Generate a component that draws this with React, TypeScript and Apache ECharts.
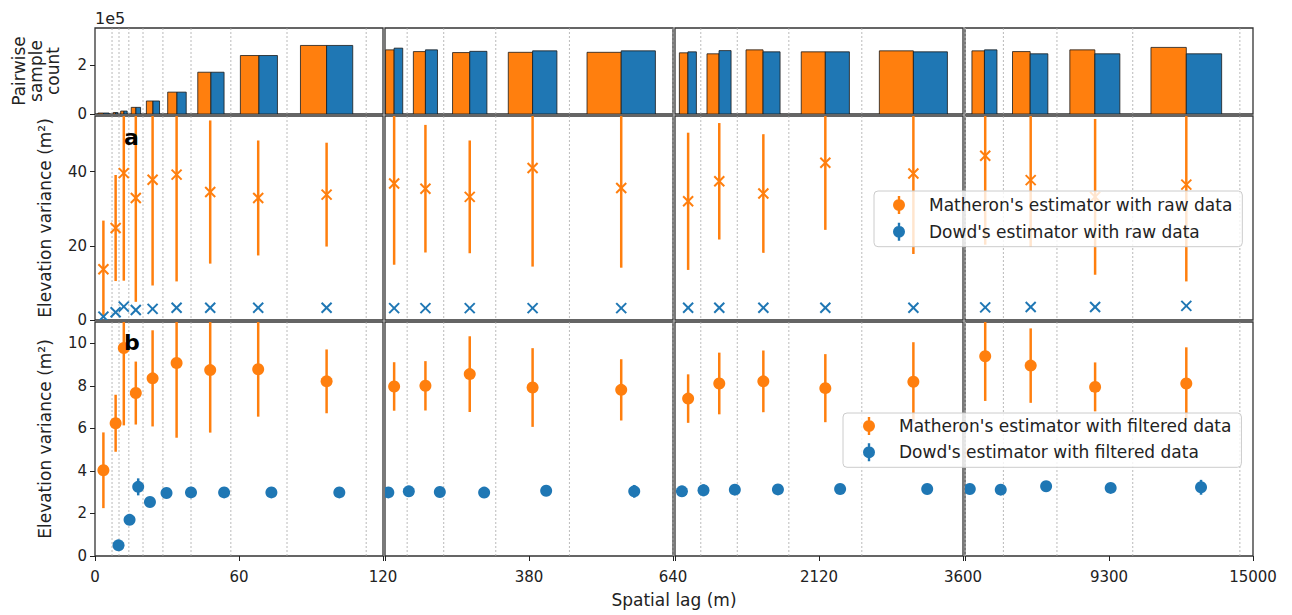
import React, { useEffect, useRef } from 'react';
import * as echarts from 'echarts';

const FONT = 'DejaVu Sans';
const ORANGE = '#ff7f0e';
const BLUE = '#1f77b4';
const INK = '#222222';

// lag-class edges (m)
const binEdges = [0, 7.1, 10, 14.1, 20, 28.3, 40, 56.6, 80, 113, 160, 226, 320, 453, 640, 905, 1280, 1810, 2560, 3620, 5120, 7240, 10240, 14480];
// lag of each class centre (m)
const lagCenters = [3.5, 8.6, 12, 17, 24, 34, 48, 68, 96.5, 136.5, 193, 273, 386.5, 546.5, 775, 1095, 1548, 2185, 3090, 4400, 6200, 8750, 12360];

// pairwise sample counts
const matheronCount = [4000, 6000, 12000, 27000, 53000, 89000, 170000, 238000, 279000, 261000, 254000, 250000, 251000, 251000, 249000, 245000, 261000, 253000, 257000, 257000, 254000, 261000, 271000];
const dowdCount = [4000, 6000, 12000, 27000, 53000, 89000, 170000, 238000, 279000, 268000, 261000, 255000, 257000, 257000, 253000, 258000, 253000, 253000, 253000, 261000, 245000, 245000, 245000];

// panel a: raw data
const matheronRaw = [13.7, 24.8, 39.6, 32.9, 37.8, 39.2, 34.5, 32.9, 33.8, 36.8, 35.4, 33.2, 41.0, 35.6, 32.0, 37.4, 34.1, 42.4, 39.5, 44.3, 37.7, 33.2, 36.5];
const matheronRawErr = [13.1, 14.3, 29.0, 28.0, 28.5, 28.8, 19.3, 15.5, 14.0, 21.9, 17.2, 15.2, 26.6, 21.5, 18.5, 15.7, 16.0, 18.1, 21.7, 24.0, 18.0, 21.0, 26.1];
const dowdRaw = [0.9, 2.1, 3.6, 2.7, 3.0, 3.3, 3.3, 3.3, 3.3, 3.2, 3.2, 3.2, 3.2, 3.2, 3.3, 3.3, 3.3, 3.3, 3.3, 3.4, 3.5, 3.5, 3.8];
const dowdRawErr = [0.1, 0.1, 0.2, 0.1, 0.1, 0.1, 0.1, 0.1, 0.1, 0.1, 0.1, 0.1, 0.1, 0.1, 0.1, 0.1, 0.1, 0.1, 0.1, 0.1, 0.1, 0.1, 0.2];

// panel b: filtered data
const matheronFiltered = [4.03, 6.24, 9.78, 7.66, 8.35, 9.07, 8.74, 8.78, 8.21, 7.97, 8.0, 8.55, 7.92, 7.81, 7.4, 8.11, 8.21, 7.89, 8.19, 9.39, 8.95, 7.95, 8.11];
const matheronFilteredErr = [1.78, 1.34, 3.64, 1.48, 2.26, 3.51, 2.94, 2.23, 1.5, 1.14, 1.16, 1.78, 1.85, 1.44, 1.14, 1.45, 1.45, 1.6, 1.86, 2.1, 1.75, 1.15, 1.7];
const dowdFilteredLag = [9.8, 14.4, 18, 22.9, 29.8, 40, 53.8, 73.5, 101.8, 126, 163, 219, 299, 411, 570, 711, 933, 1255, 1698, 2337, 3232, 3790, 5015, 6811, 9366, 12943];
const dowdFiltered = [0.5, 1.7, 3.25, 2.54, 2.96, 2.99, 2.99, 2.99, 2.99, 2.99, 3.04, 3.01, 2.98, 3.07, 3.04, 3.04, 3.09, 3.12, 3.13, 3.15, 3.15, 3.15, 3.12, 3.28, 3.2, 3.23];
const dowdFilteredErr = [0.05, 0.08, 0.4, 0.1, 0.1, 0.08, 0.08, 0.08, 0.08, 0.08, 0.1, 0.1, 0.1, 0.12, 0.3, 0.22, 0.28, 0.12, 0.12, 0.12, 0.15, 0.12, 0.12, 0.12, 0.12, 0.35];

// axes
const colRanges = [[0, 120], [120, 640], [640, 3600], [3600, 15000]];
const xTickValues = [[0, 60, 120], [120, 380, 640], [640, 2120, 3600], [3600, 9300, 15000]];
const xLabelValues = [[0, 60, 120], [380, 640], [2120, 3600], [9300, 15000]];
const countTicks = [0, 200000];
const rawTicks = [0, 20, 40];
const filteredTicks = [0, 2, 4, 6, 8, 10];
const yMaxes = [350000, 55, 11];
const yTickLists = [countTicks, rawTicks, filteredTicks];
const yNames = ['Pairwise\nsample\ncount', 'Elevation variance (m²)', 'Elevation variance (m²)'];

const NAME_MR = "Matheron's estimator with raw data";
const NAME_DR = "Dowd's estimator with raw data";
const NAME_MF = "Matheron's estimator with filtered data";
const NAME_DF = "Dowd's estimator with filtered data";

// layout
const colLeft = [95, 385, 675, 965];
const colWidth = 288;
const rowTop = [28, 116, 322];
const rowHeight = [86, 204, 234];

const errIcon = 'path://M4.8,0L7.2,0L7.2,18L4.8,18Z M0,9A6,6 0 1,1 12,9A6,6 0 1,1 0,9Z';

function clipRect(cs: any) {
  return { type: 'rect', shape: { x: cs.x, y: cs.y, width: cs.width, height: cs.height } };
}

function edgeRender(params: any, api: any) {
  const cs = params.coordSys;
  const p = api.coord([api.value(0), 0]);
  return {
    type: 'line',
    shape: { x1: p[0], y1: cs.y, x2: p[0], y2: cs.y + cs.height },
    style: { stroke: '#a8a8a8', lineWidth: 0.8, lineDash: [2, 2] },
    silent: true,
  };
}

function barRender(color: string, side: number) {
  return (params: any, api: any) => {
    const cs = params.coordSys;
    const l = api.value(0);
    const r = api.value(1);
    const count = api.value(2);
    const c = (l + r) / 2;
    const half = 0.33 * (r - l);
    const x0 = side < 0 ? c - half : c;
    const x1 = side < 0 ? c : c + half;
    const p0 = api.coord([x0, count]);
    const p1 = api.coord([x1, 0]);
    return {
      type: 'group',
      clipPath: clipRect(cs),
      children: [
        {
          type: 'rect',
          shape: { x: p0[0], y: p0[1], width: p1[0] - p0[0], height: p1[1] - p0[1] },
          style: { fill: color, stroke: '#1a1a1a', lineWidth: 0.8 },
        },
      ],
    };
  };
}

function errRender(color: string, marker: string) {
  return (params: any, api: any) => {
    const cs = params.coordSys;
    const x = api.value(0);
    const y = api.value(1);
    const e = api.value(2);
    const c = api.coord([x, y]);
    const hi = api.coord([x, y + e]);
    const lo = api.coord([x, y - e]);
    const cl = (v: number) => Math.max(cs.y, Math.min(cs.y + cs.height, v));
    const children: any[] = [
      {
        type: 'line',
        shape: { x1: c[0], y1: cl(hi[1]), x2: c[0], y2: cl(lo[1]) },
        style: { stroke: color, lineWidth: 2.5 },
      },
    ];
    if (marker === 'cross') {
      const s = 5;
      children.push({ type: 'line', shape: { x1: c[0] - s, y1: c[1] - s, x2: c[0] + s, y2: c[1] + s }, style: { stroke: color, lineWidth: 2 } });
      children.push({ type: 'line', shape: { x1: c[0] - s, y1: c[1] + s, x2: c[0] + s, y2: c[1] - s }, style: { stroke: color, lineWidth: 2 } });
    } else {
      children.push({ type: 'circle', shape: { cx: c[0], cy: c[1], r: 6 }, style: { fill: color } });
    }
    return { type: 'group', clipPath: clipRect(cs), children };
  };
}

function inRange(v: number, c: number) {
  return v >= colRanges[c][0] && v <= colRanges[c][1];
}

function buildOption() {
  const grid: any[] = [];
  const xAxis: any[] = [];
  const yAxis: any[] = [];
  const series: any[] = [];

  for (let r = 0; r < 3; r++) {
    for (let c = 0; c < 4; c++) {
      const g = r * 4 + c;
      grid.push({
        left: colLeft[c],
        top: rowTop[r],
        width: colWidth,
        height: rowHeight[r],
        show: true,
        borderColor: '#333',
        borderWidth: 1.3,
        backgroundColor: 'transparent',
      });
      xAxis.push({
        type: 'value',
        gridIndex: g,
        min: colRanges[c][0],
        max: colRanges[c][1],
        show: r === 2,
        splitLine: { show: false },
        axisLine: { show: false },
        axisTick: { show: true, customValues: xTickValues[c], length: 5, lineStyle: { color: INK, width: 1 } },
        axisLabel: {
          customValues: xLabelValues[c],
          fontSize: 15,
          fontFamily: FONT,
          color: INK,
          margin: 13,
          showMinLabel: true,
          showMaxLabel: true,
          formatter: (v: number) => String(v),
        },
      });
      yAxis.push({
        type: 'value',
        gridIndex: g,
        min: 0,
        max: yMaxes[r],
        show: c === 0,
        splitLine: { show: false },
        axisLine: { show: false },
        axisTick: { show: true, customValues: yTickLists[r], length: 5, lineStyle: { color: INK, width: 1 } },
        axisLabel: {
          customValues: yTickLists[r],
          fontSize: 15,
          fontFamily: FONT,
          color: INK,
          margin: 8,
          formatter: r === 0 ? (v: number) => String(Math.round(v / 100000)) : (v: number) => String(v),
        },
        name: c === 0 ? yNames[r] : '',
        nameLocation: 'middle',
        nameGap: r === 0 ? 34 : 41,
        nameTextStyle: { fontSize: 17, fontFamily: FONT, color: INK, lineHeight: r === 0 ? 17 : 19 },
      });

      // dotted lag-class edges
      const edgeData = binEdges.filter((e) => e > colRanges[c][0] && e < colRanges[c][1] + 30).filter((e) => e > 0).map((e) => [e, 0]);
      series.push({
        type: 'custom',
        name: 'lag class edges',
        xAxisIndex: g,
        yAxisIndex: g,
        silent: true,
        renderItem: edgeRender,
        data: edgeData,
        z: 1,
      });

      if (r === 0) {
        const bars1: any[] = [];
        const bars2: any[] = [];
        for (let i = 0; i < lagCenters.length; i++) {
          const l = binEdges[i];
          const rr = binEdges[i + 1];
          const mid = (l + rr) / 2;
          if (!inRange(mid, c)) continue;
          bars1.push([l, rr, matheronCount[i]]);
          bars2.push([l, rr, dowdCount[i]]);
        }
        series.push({ type: 'custom', name: 'Matheron pairwise count', xAxisIndex: g, yAxisIndex: g, silent: true, itemStyle: { color: ORANGE }, renderItem: barRender(ORANGE, -1), data: bars1, z: 2 });
        series.push({ type: 'custom', name: 'Dowd pairwise count', xAxisIndex: g, yAxisIndex: g, silent: true, itemStyle: { color: BLUE }, renderItem: barRender(BLUE, 1), data: bars2, z: 2 });
      } else if (r === 1) {
        const mData: any[] = [];
        const dData: any[] = [];
        for (let i = 0; i < lagCenters.length; i++) {
          if (!inRange(lagCenters[i], c)) continue;
          mData.push([lagCenters[i], matheronRaw[i], matheronRawErr[i]]);
          dData.push([lagCenters[i], dowdRaw[i], dowdRawErr[i]]);
        }
        series.push({ type: 'custom', name: NAME_MR, xAxisIndex: g, yAxisIndex: g, silent: true, itemStyle: { color: ORANGE }, renderItem: errRender(ORANGE, 'cross'), data: mData, z: 3 });
        series.push({ type: 'custom', name: NAME_DR, xAxisIndex: g, yAxisIndex: g, silent: true, itemStyle: { color: BLUE }, renderItem: errRender(BLUE, 'cross'), data: dData, z: 3 });
      } else {
        const mData: any[] = [];
        const dData: any[] = [];
        for (let i = 0; i < lagCenters.length; i++) {
          if (!inRange(lagCenters[i], c)) continue;
          mData.push([lagCenters[i], matheronFiltered[i], matheronFilteredErr[i]]);
        }
        for (let i = 0; i < dowdFilteredLag.length; i++) {
          if (!inRange(dowdFilteredLag[i], c)) continue;
          dData.push([dowdFilteredLag[i], dowdFiltered[i], dowdFilteredErr[i]]);
        }
        series.push({ type: 'custom', name: NAME_MF, xAxisIndex: g, yAxisIndex: g, silent: true, itemStyle: { color: ORANGE }, renderItem: errRender(ORANGE, 'circle'), data: mData, z: 3 });
        series.push({ type: 'custom', name: NAME_DF, xAxisIndex: g, yAxisIndex: g, silent: true, itemStyle: { color: BLUE }, renderItem: errRender(BLUE, 'circle'), data: dData, z: 3 });
      }
    }
  }

  const legendCommon = {
    orient: 'vertical',
    selectedMode: false,
    icon: errIcon,
    itemWidth: 50,
    itemHeight: 18,
    backgroundColor: 'rgba(255,255,255,0.8)',
    borderColor: '#cccccc',
    borderWidth: 1,
    borderRadius: 4,
    textStyle: { fontSize: 17, fontFamily: FONT, color: INK },
    z: 10,
  };

  return {
    animation: false,
    color: [ORANGE, BLUE],
    textStyle: { fontFamily: FONT },
    grid,
    xAxis,
    yAxis,
    series,
    legend: [
      { ...legendCommon, data: [NAME_MR, NAME_DR], left: 874, top: 191, padding: [5, 10, 6, 19], itemGap: 8.7 },
      { ...legendCommon, data: [NAME_MF, NAME_DF], left: 843, top: 413, padding: [4, 10, 6, 20], itemGap: 8.3 },
    ],
    graphic: [
      { type: 'text', left: 95, top: 10, silent: true, style: { text: '1e5', fontSize: 16, fontFamily: FONT, fill: INK } },
      { type: 'text', left: 124, top: 126, silent: true, z: 20, style: { text: 'a', fontSize: 22, fontWeight: 'bold', fontFamily: FONT, fill: '#000' } },
      { type: 'text', left: 124, top: 331, silent: true, z: 20, style: { text: 'b', fontSize: 22, fontWeight: 'bold', fontFamily: FONT, fill: '#000' } },
      { type: 'text', x: 674, y: 600, silent: true, style: { text: 'Spatial lag (m)', fontSize: 17, fontFamily: FONT, fill: INK, align: 'center', verticalAlign: 'middle' } },
    ],
  };
}

export default function App() {
  const ref = useRef<HTMLDivElement>(null);
  useEffect(() => {
    if (!ref.current) return;
    const chart = echarts.init(ref.current, null, { renderer: 'svg' });
    chart.setOption(buildOption() as any);
    return () => chart.dispose();
  }, []);
  return (
    <div
      ref={ref}
      style={{ position: 'absolute', left: 0, top: 0, width: 1292, height: 615, background: '#ffffff' }}
    />
  );
}
